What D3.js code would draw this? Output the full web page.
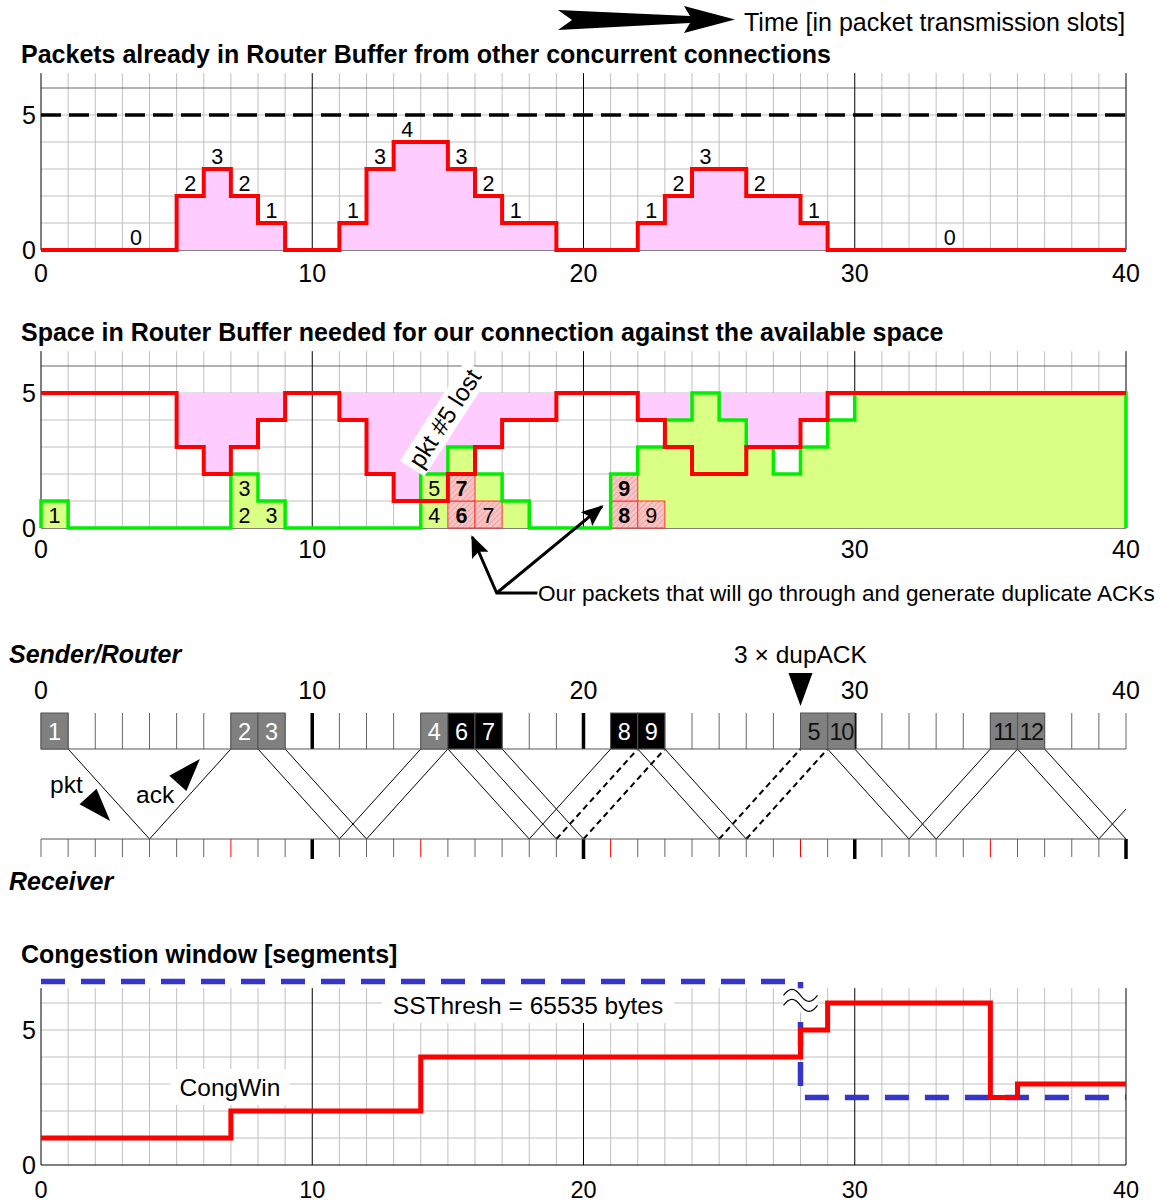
<!DOCTYPE html>
<html>
<head>
<meta charset="utf-8">
<title>TCP loss and fast retransmit over time</title>
<style>
  body { margin: 0; background: #fff; }
  svg text { font-family: "Liberation Sans", Arial, sans-serif; fill: #000; }
  .title { font-size: 25px; font-weight: bold; }
  .side { font-size: 25px; font-weight: bold; font-style: italic; }
  .tick { font-size: 25px; }
  .num { font-size: 21.5px; }
  .note { font-size: 24.5px; }
</style>
</head>
<body>
<script src="https://cdn.jsdelivr.net/npm/d3@7"></script>
<script>
const width = 1160;
const height = 1204;

// ---- data (one value per packet transmission slot) ----
const bufferSize = 5;
const otherPackets = [0,0,0,0,0,2,3,2,1,0, 0,1,3,4,4,3,2,1,1,0, 0,0,1,2,3,3,2,2,1,0, 0,0,0,0,0,0,0,0,0,0];
const otherLabelSlots = [3,5,6,7,8,11,12,13,15,16,17,22,23,24,26,28,33];
const ourPackets = [1,0,0,0,0,0,0,2,1,0, 0,0,0,0,2,3,2,1,0,0, 0,2,3,4,5,4,3,2,3,4, 5,5,5,5,5,5,5,5,5,5];

// packets queued in the router (panel 2)
const pktSlot  = [0,7,7,8,14,14,15,15,16,21,21,22];
const pktLevel = [0,0,1,0,0,1,0,1,0,0,1,0];
const pktName  = ["1","2","3","3","4","5","6","7","7","8","9","9"];
const pktKind  = ["ok","ok","ok","ok","ok","ok","bold","bold","red","bold","bold","red"];

// sender / receiver timeline
const sentName = ["1","2","3","4","6","7","8","9","5","10","11","12"];
const sentSlot = [0,7,8,14,15,16,21,22,28,29,35,36];
const sentBurst = [false,false,false,false,true,true,true,true,false,false,false,false];
const oneWayDelay = 3;
const receiverMarks = [7,14,21,28,35];
const dupAckSlot = 28;

// congestion window (segments); 6.8 stands for the off-scale 65535 bytes
const congWin  = [1,1,1,1,1,1,1,2,2,2, 2,2,2,2,4,4,4,4,4,4, 4,4,4,4,4,4,4,4,5,6, 6,6,6,6,6,2.5,3,3,3,3];
const ssThresh = [6.8,6.8,6.8,6.8,6.8,6.8,6.8,6.8,6.8,6.8, 6.8,6.8,6.8,6.8,6.8,6.8,6.8,6.8,6.8,6.8,
                  6.8,6.8,6.8,6.8,6.8,6.8,6.8,6.8,2.5,2.5, 2.5,2.5,2.5,2.5,2.5,2.5,2.5,2.5,2.5,2.5];

const xTicks = [0,10,20,30,40];

// ---- scales ----
const x = d3.scaleLinear().domain([0, 40]).range([41, 1126]);
const yTop = d3.scaleLinear().domain([0, 6]).range([250, 88]);
const yMid = d3.scaleLinear().domain([0, 6]).range([528, 366]);
const yCw  = d3.scaleLinear().domain([0, 6]).range([1165, 1003]);
const yLink = d3.scaleLinear().domain([0, 1]).range([749, 839]);

const svg = d3.select("body").append("svg")
  .attr("width", width)
  .attr("height", height);

const defs = svg.append("defs");
const hatch = defs.append("pattern")
  .attr("id", "hatch")
  .attr("patternUnits", "userSpaceOnUse")
  .attr("width", 4).attr("height", 4)
  .attr("patternTransform", "rotate(45)");
hatch.append("rect").attr("width", 4).attr("height", 4).attr("fill", "#f9c4c4");
hatch.append("line").attr("x1", 0).attr("y1", 0).attr("x2", 0).attr("y2", 4)
  .attr("stroke", "#eb9a9a").attr("stroke-width", 1.5);
defs.append("marker")
  .attr("id", "head")
  .attr("markerUnits", "userSpaceOnUse")
  .attr("markerWidth", 22).attr("markerHeight", 18)
  .attr("refX", 20).attr("refY", 9)
  .attr("orient", "auto")
  .append("path").attr("d", "M0,0 L22,9 L0,18 L4,9 Z").attr("fill", "#000");
defs.append("clipPath").attr("id", "linkClip")
  .append("rect").attr("x", x(0)).attr("y", 700).attr("width", x(40) - x(0)).attr("height", 170);

const steps = arr => arr.map((v, i) => [i, v]).concat([[arr.length, arr[arr.length - 1]]]);
const stepLine = y => d3.line().x(d => x(d[0])).y(d => y(d[1])).curve(d3.curveStepAfter);

function grid(g, y, topColor) {
  const minor = d3.range(41).filter(i => i % 10);
  g.selectAll(".vminor").data(minor).join("line").attr("class", "vminor")
    .attr("x1", d => x(d)).attr("x2", d => x(d))
    .attr("y1", y(6.55)).attr("y2", y(0))
    .attr("stroke", "#c0c0c0");
  g.selectAll(".hminor").data([1,2,3,4,5,6]).join("line").attr("class", "hminor")
    .attr("x1", x(0)).attr("x2", x(40))
    .attr("y1", d => y(d)).attr("y2", d => y(d))
    .attr("stroke", d => d === 6 ? topColor : "#c0c0c0");
  g.selectAll(".vmajor").data(xTicks).join("line").attr("class", "vmajor")
    .attr("x1", d => x(d)).attr("x2", d => x(d))
    .attr("y1", y(6.55)).attr("y2", y(0))
    .attr("stroke", "#000");
  g.append("line")
    .attr("x1", x(0)).attr("x2", x(40)).attr("y1", y(0)).attr("y2", y(0))
    .attr("stroke", "#000");
}

function axisLabels(g, y, ticks, labelY, size) {
  g.selectAll(".xl").data(ticks).join("text").attr("class", "tick xl")
    .attr("x", d => x(d)).attr("y", labelY)
    .style("font-size", size ? size + "px" : null)
    .attr("text-anchor", "middle").text(d => d);
  g.selectAll(".yl").data([0, 5]).join("text").attr("class", "tick yl")
    .attr("x", x(0) - 5).attr("y", d => y(d) + 9)
    .attr("text-anchor", "end").text(d => d);
}

// ---- header arrow ----
svg.append("path")
  .attr("d", "M558,10 L690,16 L684,6 L735,19.5 L684,33 L690,23 L558,30 L572,20 Z")
  .attr("fill", "#000");
svg.append("text").attr("class", "note").attr("x", 744).attr("y", 31)
  .style("font-size", "25px")
  .text("Time [in packet transmission slots]");

// ---- panel 1: other connections ----
const p1 = svg.append("g");
p1.append("text").attr("class", "title").attr("x", 21).attr("y", 63)
  .text("Packets already in Router Buffer from other concurrent connections");
grid(p1, yTop, "#666");
p1.append("path")
  .datum(steps(otherPackets))
  .attr("d", d3.area().x(d => x(d[0])).y0(yTop(0)).y1(d => yTop(d[1])).curve(d3.curveStepAfter))
  .attr("fill", "#ffccff");
p1.append("line")
  .attr("x1", x(0)).attr("x2", x(40)).attr("y1", yTop(bufferSize)).attr("y2", yTop(bufferSize))
  .attr("stroke", "#000").attr("stroke-width", 3.5).attr("stroke-dasharray", "20,8");
p1.append("path")
  .datum(steps(otherPackets))
  .attr("d", stepLine(yTop))
  .attr("fill", "none").attr("stroke", "#ff0000").attr("stroke-width", 4);
p1.selectAll(".cnt").data(otherLabelSlots).join("text").attr("class", "num cnt")
  .attr("x", d => x(d + 0.5)).attr("y", d => yTop(otherPackets[d]) - 5)
  .attr("text-anchor", "middle").text(d => otherPackets[d]);
axisLabels(p1, yTop, xTicks, 282);

// ---- panel 2: space in router buffer ----
const available = otherPackets.map(v => bufferSize - v);
const p2 = svg.append("g");
p2.append("text").attr("class", "title").attr("x", 21).attr("y", 341)
  .text("Space in Router Buffer needed for our connection against the available space");
grid(p2, yMid, "#666");
p2.append("path")
  .datum(steps(available))
  .attr("d", d3.area().x(d => x(d[0])).y0(yMid(bufferSize)).y1(d => yMid(d[1])).curve(d3.curveStepAfter))
  .attr("fill", "#ffccff");
p2.append("path")
  .datum(steps(ourPackets))
  .attr("d", d3.area().x(d => x(d[0])).y0(yMid(0)).y1(d => yMid(d[1])).curve(d3.curveStepAfter))
  .attr("fill", "#daff85");
p2.selectAll(".lost").data(d3.range(pktSlot.length).filter(i => pktKind[i] !== "ok")).join("rect")
  .attr("class", "lost")
  .attr("x", i => x(pktSlot[i])).attr("width", x(1) - x(0))
  .attr("y", i => yMid(pktLevel[i] + 1)).attr("height", yMid(0) - yMid(1))
  .attr("fill", "url(#hatch)").attr("stroke", "#ff3030").attr("stroke-width", 1);
p2.append("path")
  .datum([[0, 0]].concat(steps(ourPackets), [[40, 0]]))
  .attr("d", stepLine(yMid))
  .attr("fill", "none").attr("stroke", "#00ee00").attr("stroke-width", 3.5);
p2.append("path")
  .datum(steps(available))
  .attr("d", stepLine(yMid))
  .attr("fill", "none").attr("stroke", "#ff0000").attr("stroke-width", 4);
p2.selectAll(".pk").data(d3.range(pktSlot.length)).join("text").attr("class", "num pk")
  .attr("x", i => x(pktSlot[i] + 0.5)).attr("y", i => yMid(pktLevel[i] + 0.5) + 8)
  .attr("text-anchor", "middle")
  .style("font-weight", i => pktKind[i] === "bold" ? "bold" : "normal")
  .text(i => pktName[i]);
axisLabels(p2, yMid, [0, 10, 30, 40], 558);

const lost = p2.append("g").attr("transform", `translate(${x(14.9)},${yMid(4.05)}) rotate(-57)`);
const lostText = lost.append("text").attr("class", "note").attr("text-anchor", "middle").attr("y", 8)
  .text("pkt #5 lost");
const lb = lostText.node().getBBox();
lost.insert("rect", "text")
  .attr("x", lb.x - 4).attr("y", lb.y - 1).attr("width", lb.width + 8).attr("height", lb.height + 2)
  .attr("fill", "#fff");

// pointer to the duplicate-ACK generating packets
const corner = [x(16.8), 593];
p2.append("path")
  .attr("d", d3.line()([[x(18.3), 593], corner, [x(15.9), yMid(0) + 9]]))
  .attr("fill", "none").attr("stroke", "#000").attr("stroke-width", 3)
  .attr("marker-end", "url(#head)");
p2.append("path")
  .attr("d", d3.line()([corner, [x(20.68), yMid(0.8)]]))
  .attr("fill", "none").attr("stroke", "#000").attr("stroke-width", 3)
  .attr("marker-end", "url(#head)");
p2.append("text").attr("class", "note").attr("x", 538).attr("y", 601)
  .style("font-size", "22.6px")
  .text("Our packets that will go through and generate duplicate ACKs");

// ---- sender / receiver timeline ----
const tl = svg.append("g");
tl.append("text").attr("class", "side").attr("x", 9).attr("y", 663).text("Sender/Router");
tl.append("text").attr("class", "side").attr("x", 9).attr("y", 890).text("Receiver");
tl.selectAll(".tx").data(xTicks).join("text").attr("class", "tick tx")
  .attr("x", d => x(d)).attr("y", 699).attr("text-anchor", "middle").text(d => d);
tl.append("text").attr("class", "note").attr("x", x(dupAckSlot)).attr("y", 663)
  .attr("text-anchor", "middle").text("3 \u00d7 dupACK");
tl.append("path")
  .attr("d", d3.line()([[x(dupAckSlot) - 12, 673], [x(dupAckSlot) + 12, 673], [x(dupAckSlot), 706]]) + "Z")
  .attr("fill", "#000");

// flight lines
const flights = tl.append("g").attr("clip-path", "url(#linkClip)");
sentSlot.forEach((s, i) => {
  const t0 = s + 1, t1 = t0 + oneWayDelay, t2 = t1 + oneWayDelay;
  flights.append("line")
    .attr("x1", x(t0)).attr("y1", yLink(0)).attr("x2", x(t1)).attr("y2", yLink(1))
    .attr("stroke", "#000").attr("stroke-width", 1);
  flights.append("line")
    .attr("x1", x(t1)).attr("y1", yLink(1)).attr("x2", x(t2)).attr("y2", yLink(0))
    .attr("stroke", "#000")
    .attr("stroke-width", sentBurst[i] ? 2 : 1)
    .attr("stroke-dasharray", sentBurst[i] ? "6,4" : null);
});

// sender ticks
tl.selectAll(".st").data(d3.range(41)).join("line").attr("class", "st")
  .attr("x1", d => x(d)).attr("x2", d => x(d))
  .attr("y1", 713).attr("y2", yLink(0))
  .attr("stroke", d => (d % 10 === 0 && d > 0 && d < 40) ? "#000" : "#666")
  .attr("stroke-width", d => (d % 10 === 0 && d > 0 && d < 40) ? 3.5 : 1);
tl.append("line").attr("x1", x(0)).attr("x2", x(40)).attr("y1", yLink(0)).attr("y2", yLink(0))
  .attr("stroke", "#555");
// receiver ticks
tl.selectAll(".rt").data(d3.range(41)).join("line").attr("class", "rt")
  .attr("x1", d => x(d)).attr("x2", d => x(d))
  .attr("y1", yLink(1)).attr("y2", d => (d % 10 === 0 && d > 0) ? 859 : 857)
  .attr("stroke", d => receiverMarks.includes(d) ? "#ff0000" : (d % 10 === 0 && d > 0) ? "#000" : "#666")
  .attr("stroke-width", d => (d % 10 === 0 && d > 0) ? 3.5 : 1);
tl.append("line").attr("x1", x(0)).attr("x2", x(40)).attr("y1", yLink(1)).attr("y2", yLink(1))
  .attr("stroke", "#555");

// sent packets
tl.selectAll(".box").data(d3.range(sentSlot.length)).join("rect").attr("class", "box")
  .attr("x", i => x(sentSlot[i])).attr("width", x(1) - x(0))
  .attr("y", 713).attr("height", yLink(0) - 713)
  .attr("fill", i => sentBurst[i] ? "#000" : "#808080")
  .attr("stroke", "#555");
tl.selectAll(".bl").data(d3.range(sentSlot.length)).join("text").attr("class", "bl")
  .attr("x", i => x(sentSlot[i] + 0.5)).attr("y", 740)
  .attr("text-anchor", "middle").style("font-size", "23.5px")
  .style("letter-spacing", i => sentName[i].length > 1 ? "-1.5px" : null)
  .style("fill", i => (sentBurst[i] || sentSlot[i] < 15) ? "#fff" : "#111")
  .text(i => sentName[i]);

// pkt / ack direction arrows
function headAt(tip, dir) {
  const len = Math.hypot(dir[0], dir[1]);
  const u = [dir[0] / len, dir[1] / len];
  const b = [tip[0] - u[0] * 33, tip[1] - u[1] * 33];
  const p = [-u[1] * 11.5, u[0] * 11.5];
  return d3.line()([tip, [b[0] + p[0], b[1] + p[1]], [b[0] - p[0], b[1] - p[1]]]) + "Z";
}
const dx = x(oneWayDelay) - x(0), dy = yLink(1) - yLink(0);
tl.append("path").attr("d", headAt([x(2.55), yLink(0.8)], [dx, dy])).attr("fill", "#000");
tl.append("path").attr("d", headAt([x(5.86), yLink(0.11)], [dx, -dy])).attr("fill", "#000");
tl.append("text").attr("class", "note").attr("x", 50).attr("y", 793).text("pkt");
tl.append("text").attr("class", "note").attr("x", 136).attr("y", 803).text("ack");

// ---- panel 4: congestion window ----
const p4 = svg.append("g");
p4.append("text").attr("class", "title").attr("x", 21).attr("y", 963)
  .text("Congestion window [segments]");
grid(p4, yCw, "#c0c0c0");

function labelBox(g, cx, cy, str, pad) {
  const t = g.append("text").attr("class", "note").attr("x", cx).attr("y", cy + 9)
    .attr("text-anchor", "middle").text(str);
  const b = t.node().getBBox();
  g.insert("rect", () => t.node())
    .attr("x", b.x - pad).attr("y", cy - 18).attr("width", b.width + 2 * pad).attr("height", 36)
    .attr("fill", "#fff");
}
labelBox(p4, 528, 1005, "SSThresh = 65535 bytes", 11);
labelBox(p4, 230, 1087, "CongWin", 9);

p4.append("path")
  .datum(steps(ssThresh))
  .attr("d", stepLine(yCw))
  .attr("fill", "none").attr("stroke", "#3535cc").attr("stroke-width", 5.5)
  .attr("stroke-dasharray", "24,16");
p4.append("path")
  .datum(steps(congWin))
  .attr("d", stepLine(yCw))
  .attr("fill", "none").attr("stroke", "#ff0000").attr("stroke-width", 5);

// axis break on the threshold drop
const bx = x(dupAckSlot), by = yCw(6.1);
p4.append("rect").attr("x", bx - 17).attr("y", by - 12).attr("width", 34).attr("height", 24).attr("fill", "#fff");
[-5, 5].forEach(o => {
  p4.append("path")
    .attr("d", `M${bx - 17},${by + o} c 6,-8 11,-8 17,0 s 11,8 17,0`)
    .attr("fill", "none").attr("stroke", "#000").attr("stroke-width", 1.2);
});
axisLabels(p4, yCw, xTicks, 1198, 23.5);
</script>
</body>
</html>
